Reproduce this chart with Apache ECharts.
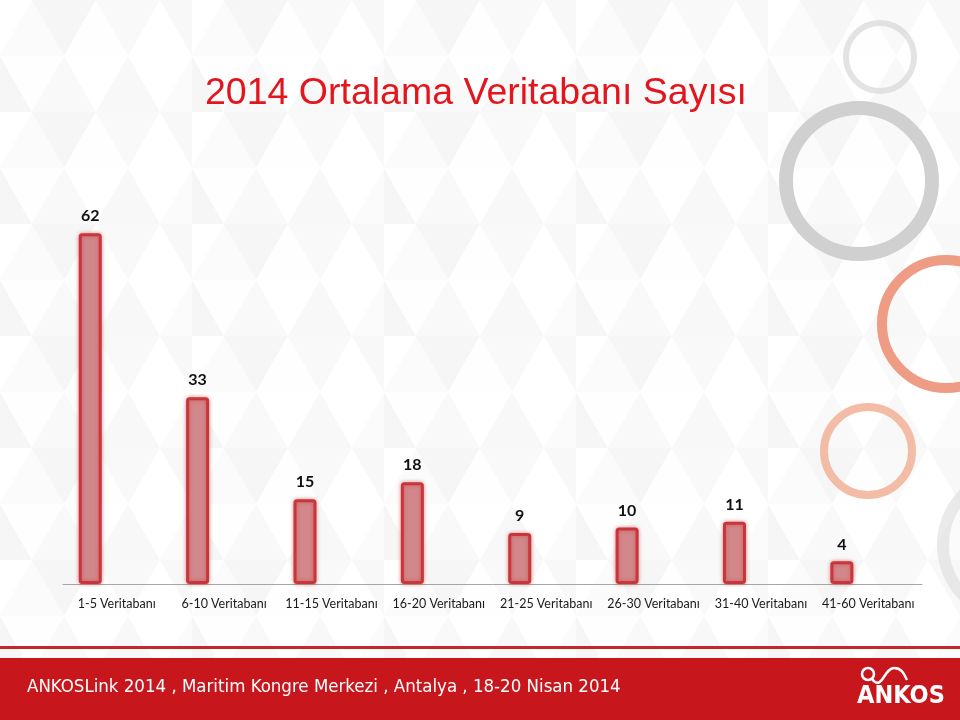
<!DOCTYPE html>
<html>
<head>
<meta charset="utf-8">
<title>2014 Ortalama Veritabanı Sayısı</title>
<script src="https://cdn.jsdelivr.net/npm/echarts@6/dist/echarts.min.js"></script>
<style>
  html, body { margin: 0; padding: 0; }
  #chart { width: 960px; height: 720px; background-color: #ffffff; }
</style>
</head>
<body>
<div id="chart"></div>
<script>
// data
const categories = ['1-5 Veritabanı', '6-10 Veritabanı', '11-15 Veritabanı', '16-20 Veritabanı',
  '21-25 Veritabanı', '26-30 Veritabanı', '31-40 Veritabanı', '41-60 Veritabanı'];
const counts = [62, 33, 15, 18, 9, 10, 11, 4];
const emptySeries = [null, null, null, null, null, null, null, null]; // boş ikinci seri (çubukları sola kaydırır)

const titleText = '2014 Ortalama Veritabanı Sayısı';
const footerText = 'ANKOSLink 2014 , Maritim Kongre Merkezi , Antalya , 18-20 Nisan 2014';

// arka plandaki soluk üçgen deseni
function makePattern () {
  const w = 64, h = 56;
  const cols = 3, rows = 2;
  const c = document.createElement('canvas');
  c.width = w * cols; c.height = h * rows;
  const ctx = c.getContext('2d');
  ctx.fillStyle = '#ffffff';
  ctx.fillRect(0, 0, c.width, c.height);
  const shades = ['#f8f8f8', '#ffffff', '#fbfbfb', '#f6f6f6', '#fefefe', '#f9f9f9', '#ffffff'];
  let k = 0;
  function tri (pts) {
    ctx.fillStyle = shades[k++ % shades.length];
    ctx.beginPath();
    ctx.moveTo(pts[0], pts[1]); ctx.lineTo(pts[2], pts[3]); ctx.lineTo(pts[4], pts[5]);
    ctx.closePath();
    ctx.fill();
  }
  for (let r = 0; r < rows; r++) {
    const y = r * h;
    const off = (r % 2) * w / 2;
    for (let i = -1; i <= cols; i++) {
      const x = i * w + off;
      tri([x, y + h, x + w / 2, y, x + w, y + h]);
      tri([x + w / 2, y, x + w, y + h, x + w * 1.5, y]);
    }
  }
  return c.toDataURL();
}
document.getElementById('chart').style.backgroundImage = 'url(' + makePattern() + ')';

const chart = echarts.init(document.getElementById('chart'));

function ring (cx, cy, r, width, color) {
  return {
    type: 'circle',
    shape: { cx: cx, cy: cy, r: r },
    style: { fill: 'none', stroke: color, lineWidth: width },
    silent: true,
    z: -10,
  };
}

const option = {
  backgroundColor: 'transparent',
  animation: false,
  title: {
    text: titleText,
    left: 200,
    top: 70,
    textStyle: {
      color: '#e3151d',
      fontFamily: 'Liberation Sans, Arial, sans-serif',
      fontSize: 37.5,
      fontWeight: 'normal',
    },
  },
  grid: {
    left: 63,
    right: 38,
    top: 188,
    bottom: 136,
  },
  xAxis: {
    type: 'category',
    data: categories,
    axisTick: { show: false },
    axisLine: { lineStyle: { color: '#a6a6a6', width: 1 } },
    axisLabel: {
      color: '#1a1a1a',
      fontFamily: 'Lato, sans-serif',
      fontSize: 12.5,
      margin: 13,
      interval: 0,
    },
  },
  yAxis: {
    type: 'value',
    min: 0,
    max: 70,
    show: false,
    splitLine: { show: false },
  },
  series: [
    {
      type: 'bar',
      data: counts,
      barWidth: 23,
      barGap: '130%',
      itemStyle: {
        color: '#d2888b',
        borderColor: '#c8353a',
        borderWidth: 3,
        borderRadius: 2,
        shadowColor: 'rgba(200,40,40,0.45)',
        shadowBlur: 4,
      },
      label: {
        show: true,
        position: 'top',
        distance: 9,
        color: '#111111',
        fontFamily: 'Lato, sans-serif',
        fontSize: 16,
        fontWeight: 'bold',
      },
    },
    {
      type: 'bar',
      data: emptySeries,
      barWidth: 23,
    },
  ],
  graphic: [
    // sağdaki dekoratif halkalar
    ring(880, 57, 34, 6, 'rgba(215,215,215,0.7)'),
    ring(859, 181, 73, 14, '#d0d0d0'),
    ring(946, 324, 64, 10, '#ee9c84'),
    ring(868, 451, 44, 8, '#f3bca6'),
    ring(1015, 545, 72, 12, 'rgba(220,220,220,0.6)'),
    // alt bant
    {
      type: 'rect',
      shape: { x: 0, y: 646, width: 960, height: 3 },
      style: { fill: '#c3282e' },
      silent: true,
    },
    {
      type: 'rect',
      shape: { x: 0, y: 658, width: 960, height: 62 },
      style: { fill: '#c8161d' },
      silent: true,
    },
    {
      type: 'text',
      left: 27,
      top: 678,
      style: {
        text: footerText,
        fill: '#ffffff',
        font: '18.5px "DejaVu Sans Condensed", sans-serif',
      },
      silent: true,
    },
    // ANKOS logosu
    {
      type: 'circle',
      shape: { cx: 868, cy: 674, r: 6 },
      style: { fill: 'none', stroke: '#ffffff', lineWidth: 2.5 },
      silent: true,
    },
    {
      type: 'bezierCurve',
      shape: { x1: 872, y1: 679, cpx1: 882, cpy1: 692, x2: 894, y2: 668, cpx2: 884, cpy2: 668 },
      style: { stroke: '#ffffff', lineWidth: 2.5, fill: 'none' },
      silent: true,
    },
    {
      type: 'bezierCurve',
      shape: { x1: 894, y1: 668, cpx1: 902, cpy1: 668, x2: 907, y2: 680, cpx2: 904, cpy2: 674 },
      style: { stroke: '#ffffff', lineWidth: 2.5, fill: 'none' },
      silent: true,
    },
    {
      type: 'text',
      left: 857,
      top: 684,
      style: {
        text: 'ANKOS',
        fill: '#ffffff',
        font: 'bold 25px "DejaVu Sans Condensed", sans-serif',
      },
      silent: true,
    },
  ],
};

chart.setOption(option);
</script>
</body>
</html>
